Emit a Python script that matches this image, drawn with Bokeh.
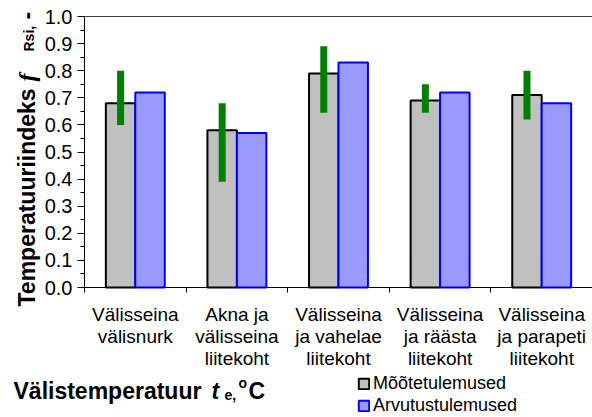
import math

from bokeh.embed import file_html
from bokeh.models import (FixedTicker, Label, Legend, LegendItem, LinearAxis,
                          PrintfTickFormatter, Range1d, SingleIntervalTicker)
from bokeh.plotting import figure
from bokeh.resources import INLINE

# --- data -------------------------------------------------------------
categories = [
    "Välisseina\nvälisnurk",
    "Akna ja\nvälisseina\nliitekoht",
    "Välisseina\nja vahelae\nliitekoht",
    "Välisseina\nja räästa\nliitekoht",
    "Välisseina\nja parapeti\nliitekoht",
]
measured = [0.68, 0.58, 0.79, 0.69, 0.71]      # Mõõtetulemused
calculated = [0.72, 0.57, 0.83, 0.72, 0.68]    # Arvutustulemused
range_high = [0.80, 0.68, 0.89, 0.75, 0.80]    # measured spread, upper end
range_low = [0.60, 0.39, 0.645, 0.645, 0.62]   # measured spread, lower end
series_names = ["Mõõtetulemused", "Arvutustulemused"]
y_min, y_max = 0.0, 1.0

FONT = "Liberation Sans"
W, H = 592, 417
# plot area inside the canvas (pixels from top-left)
AREA_LEFT, AREA_TOP, AREA_BOTTOM = 84, 16, 287
CAT_PX = 101.6                                   # width of one category slot
Y_PX = (AREA_BOTTOM - AREA_TOP) / (y_max - y_min)

n = len(categories)
# the frame fills the whole canvas; ranges are widened so that the
# plot area lands where the axes are drawn
x_range = Range1d(-AREA_LEFT / CAT_PX, (W - AREA_LEFT) / CAT_PX)
y_range = Range1d(y_min - (H - AREA_BOTTOM) / Y_PX, y_max + AREA_TOP / Y_PX)

p = figure(width=W, height=H, output_backend="svg", toolbar_location=None,
           x_range=x_range, y_range=y_range,
           x_axis_location=None, y_axis_location=None, min_border=0)
p.outline_line_color = None
p.grid.visible = False
p.background_fill_color = "white"
p.border_fill_color = "white"

x_meas = [i + 0.355 for i in range(n)]
x_calc = [i + 0.645 for i in range(n)]

r_meas = p.vbar(x=x_meas, top=measured, bottom=y_min, width=0.29,
                fill_color="#C0C0C0", line_color="black", line_width=2)
r_calc = p.vbar(x=x_calc, top=calculated, bottom=y_min, width=0.29,
                fill_color="#9999FF", line_color="#0000FF", line_width=2)
p.segment(x0=x_meas, y0=range_low, x1=x_meas, y1=range_high,
          line_color="#008000", line_width=7, line_cap="butt")

# top border of the plot area
p.segment(x0=[0], y0=[y_max], x1=[n], y1=[y_max], line_color="#404040", line_width=1)

# --- y axis -----------------------------------------------------------
ya = LinearAxis(fixed_location=0, bounds=(y_min, y_max),
                ticker=SingleIntervalTicker(interval=0.1, num_minor_ticks=2),
                formatter=PrintfTickFormatter(format="%.1f"))
ya.major_label_text_font = FONT
ya.major_label_text_font_size = "20px"
ya.major_label_text_color = "black"
ya.major_label_standoff = 5
ya.major_tick_out = 7
ya.major_tick_in = 0
ya.minor_tick_out = 4
ya.minor_tick_in = 0
ya.axis_line_color = "black"
ya.major_tick_line_color = "black"
ya.minor_tick_line_color = "black"
p.add_layout(ya, "left")

# --- x axis: ticks on category boundaries, labels drawn separately ----
xa = LinearAxis(fixed_location=y_min, bounds=(0, n),
                ticker=FixedTicker(ticks=list(range(n + 1))))
xa.major_label_overrides = {i: "" for i in range(n + 1)}
xa.major_tick_out = 5
xa.major_tick_in = 0
xa.minor_tick_line_color = None
xa.axis_line_color = "black"
xa.major_tick_line_color = "black"
p.add_layout(xa, "below")


def sy(y):
    """canvas y (from top) -> screen y (from bottom)"""
    return H - y


# category labels, one Label per line
for i, cat in enumerate(categories):
    for j, line in enumerate(cat.split("\n")):
        p.add_layout(Label(x=i + 0.5, y=sy(314 + 22 * j), x_units="data", y_units="screen",
                           text=line, text_align="center", text_baseline="alphabetic",
                           text_font=FONT, text_font_size="19px", text_color="black"))

# y axis title: Temperatuuriindeks f_Rsi, -
rot = math.pi / 2
ytitle = [
    ("Temperatuuriindeks", 26, 306, "23px", "bold", FONT),
    ("f", 26, 81, "24px", "bold italic", "Liberation Serif"),
    ("Rsi,", 28, 51, "14px", "bold", FONT),
    ("-", 26, 19, "23px", "bold", FONT),
]
for text, cx, cy, size, style, font in ytitle:
    p.add_layout(Label(x=cx, y=sy(cy), x_units="screen", y_units="screen", text=text,
                       angle=rot, text_align="left", text_baseline="alphabetic",
                       text_font=font, text_font_size=size, text_font_style=style,
                       text_color="black"))

# x axis title: Välistemperatuur t_e,°C
xtitle = [
    ("Välistemperatuur", 13, 390, "23px", "bold"),
    ("t", 211, 390, "23px", "bold italic"),
    ("e,", 224, 394, "14px", "bold"),
    ("o", 238, 382, "14px", "bold"),
    ("C", 248, 390, "23px", "bold"),
]
for text, cx, cy, size, style in xtitle:
    p.add_layout(Label(x=cx, y=sy(cy), x_units="screen", y_units="screen", text=text,
                       text_align="left", text_baseline="alphabetic",
                       text_font=FONT, text_font_size=size, text_font_style=style,
                       text_color="black"))

legend = Legend(items=[LegendItem(label=series_names[0], renderers=[r_meas]),
                       LegendItem(label=series_names[1], renderers=[r_calc])],
                location=(357, sy(416)), orientation="vertical",
                glyph_width=13, glyph_height=13, label_standoff=3, label_height=20,
                spacing=1, padding=0, margin=0, border_line_color=None,
                background_fill_alpha=0, label_text_font=FONT,
                label_text_font_size="18px", label_text_color="black")
p.add_layout(legend)

open("out.html", "w").write(file_html(p, INLINE))
